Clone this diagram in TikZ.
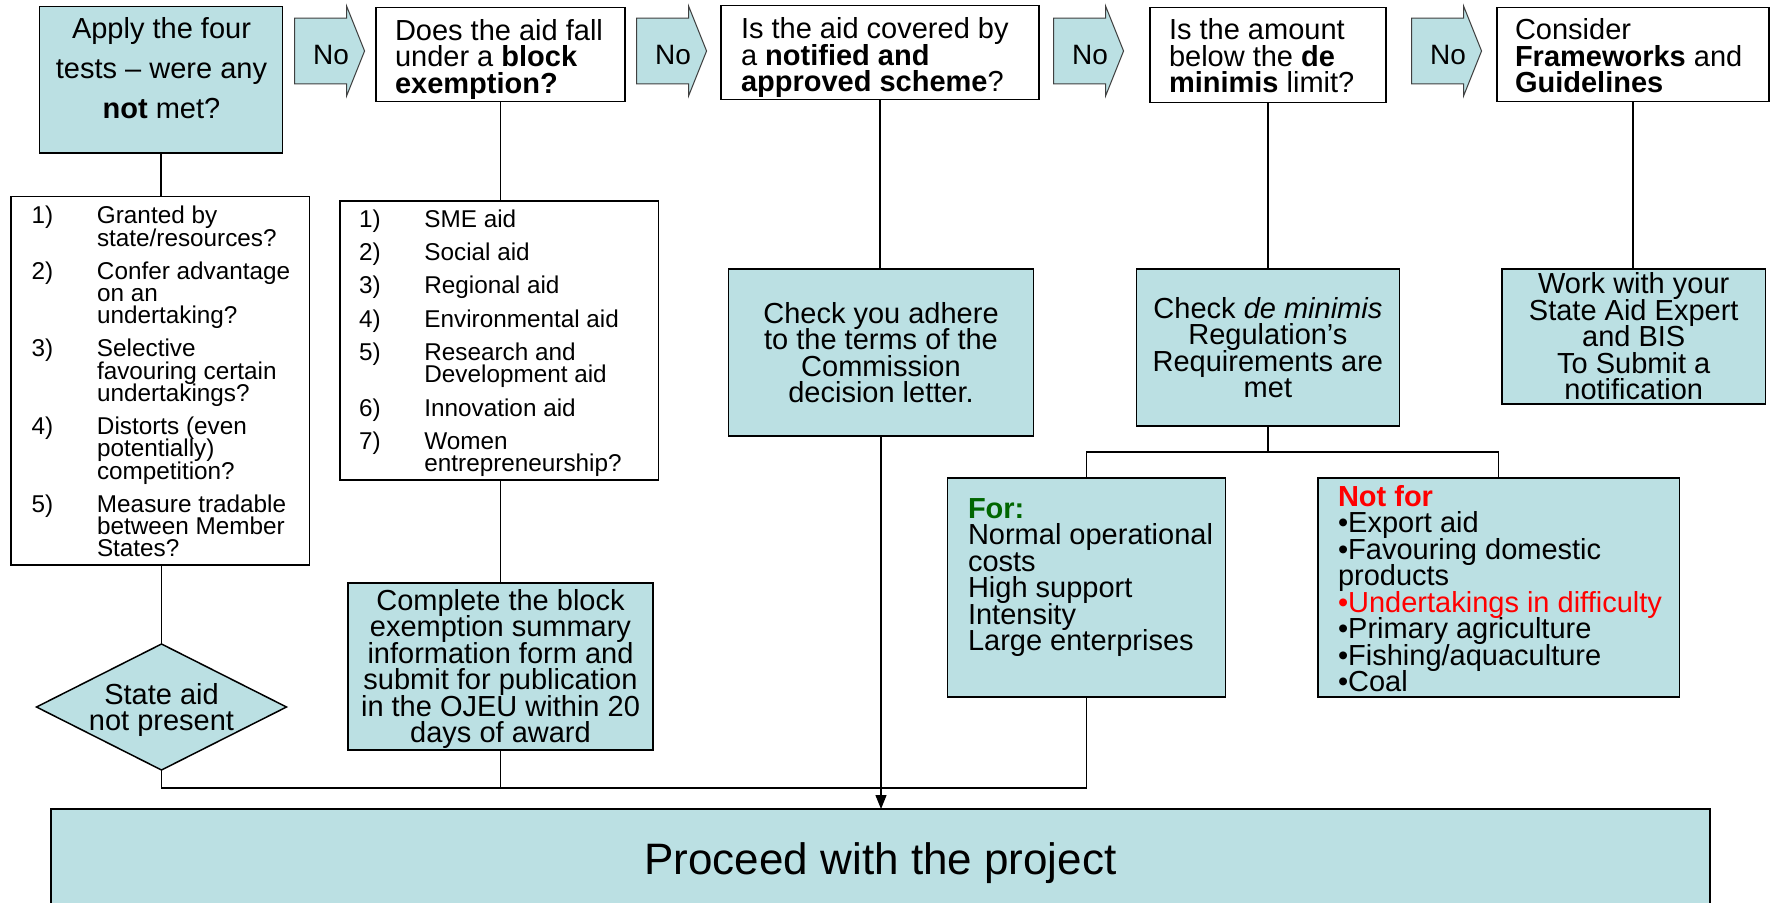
\documentclass[tikz,border=0pt]{standalone}
\usepackage{fontspec}
\setmainfont{Liberation Sans}
\usetikzlibrary{shapes.geometric,shapes.arrows,arrows.meta}

\definecolor{aidfill}{RGB}{187,224,227}
\definecolor{forgreen}{RGB}{0,102,0}
\definecolor{notred}{RGB}{255,0,0}

% fixed line pitch, never widened by tall glyphs
\newcommand\qfont{\fontsize{29}{26.5}\selectfont\lineskiplimit=-100pt\lineskip=0pt}
\newcommand\widefont{\fontsize{29}{40}\selectfont\lineskiplimit=-100pt\lineskip=0pt}
\newcommand\listfont{\fontsize{24.3}{22.4}\selectfont\lineskiplimit=-100pt\lineskip=0pt}
\newcommand\nofont{\fontsize{28}{30}\selectfont}
\newcommand\itm[1]{\makebox[65.4pt][l]{#1}}
\newcommand\cont{\hspace*{65.4pt}}
\newcommand\notext{\hspace*{16pt}\rule{0pt}{28pt}No}

\begin{document}
\begin{tikzpicture}[x=1pt,y=-1pt,
  every node/.style={inner sep=0pt,outer sep=0pt},
  frame/.style={draw=black,line width=1.5pt,rectangle},
  qbox/.style={frame,fill=white},
  tbox/.style={frame,fill=aidfill,align=center,font=\qfont},
  qtext/.style={anchor=west,align=left,font=\qfont},
  ltext/.style={anchor=west,align=left,font=\listfont},
  wire/.style={draw=black,line width=1.3pt},
  noarrow/.style={single arrow,draw=black!75,line width=1pt,fill=aidfill,
    single arrow tip angle=136.4,minimum width=90pt,minimum height=70pt,
    inner xsep=0pt,inner ysep=4.5pt,font=\nofont},
]
\path[use as bounding box,clip] (0,0) rectangle (1771,902);

% ---- top row: questions ----
\node[tbox,minimum width=243pt,minimum height=146.5pt] (b1) at (161,79.75) {};
\node[align=center,font=\widefont] (b1t) at (161.5,68.25)
  {Apply the four\\tests – were any\\\textbf{not} met?};

\node[noarrow] (a1) at (323,51) {\notext};

\node[qbox,minimum width=249pt,minimum height=94.4pt] (b2) at (500.5,54.5) {};
\node[qtext] (b2t) at (395,59.5)
  {Does the aid fall\\under a \textbf{block}\\\textbf{exemption?}};

\node[noarrow] (a2) at (665,51) {\notext};

\node[qbox,minimum width=318pt,minimum height=93.8pt] (b3) at (880,52.5) {};
\node[qtext] (b3t) at (741,58)
  {Is the aid covered by\\a \textbf{notified and}\\\textbf{approved scheme}?};

\node[noarrow] (a3) at (1082,51) {\notext};

\node[qbox,minimum width=236pt,minimum height=95pt] (b4) at (1268,55) {};
\node[qtext] (b4t) at (1169,55.75)
  {Is the amount\\below the \textbf{de}\\\textbf{minimis} limit?};

\node[noarrow] (a4) at (1440,51) {\notext};

\node[qbox,minimum width=272pt,minimum height=94.4pt] (b5) at (1633,54.5) {};
\node[qtext] (b5t) at (1515,55.75)
  {Consider\\\textbf{Frameworks} and\\\textbf{Guidelines}};

% ---- column 1: the four tests ----
\node[qbox,minimum width=298.5pt,minimum height=368.5pt] (l1) at (160.25,380.75) {};
\node[ltext] (l1t) at (31.6,381.7)
  {\itm{1)}Granted by\\
   \cont state/resources?\\[10.5pt]
   \itm{2)}Confer advantage\\
   \cont on an\\
   \cont undertaking?\\[10.5pt]
   \itm{3)}Selective\\
   \cont favouring certain\\
   \cont undertakings?\\[10.5pt]
   \itm{4)}Distorts (even\\
   \cont potentially)\\
   \cont competition?\\[10.5pt]
   \itm{5)}Measure tradable\\
   \cont between Member\\
   \cont States?};

\node[diamond,draw=black,line width=1.5pt,fill=aidfill,
  minimum width=250pt,minimum height=126pt] (dia) at (161.5,707) {};
\node[align=center,font=\qfont] (diat) at (161.5,710) {State aid\\not present};

% ---- column 2: block exemption ----
\node[qbox,minimum width=318.5pt,minimum height=279pt] (l2) at (499.25,340.5) {};
\node[ltext] (l2t) at (359,343.2)
  {\itm{1)}SME aid\\[10.9pt]
   \itm{2)}Social aid\\[10.9pt]
   \itm{3)}Regional aid\\[10.9pt]
   \itm{4)}Environmental aid\\[10.9pt]
   \itm{5)}Research and\\
   \cont Development aid\\[10.9pt]
   \itm{6)}Innovation aid\\[10.9pt]
   \itm{7)}Women\\
   \cont entrepreneurship?};

\node[tbox,minimum width=305pt,minimum height=167pt] (cb) at (500.5,666.5)
  {\rule{0pt}{26pt}Complete the block\\exemption summary\\information form and\\submit for publication\\in the OJEU within 20\\days of award};

% ---- column 3: notified scheme ----
\node[tbox,minimum width=305pt,minimum height=167pt] (ad) at (881,352.5)
  {Check you adhere\\to the terms of the\\Commission\\decision letter.};

% ---- column 4: de minimis ----
\node[tbox,minimum width=263.2pt,minimum height=157pt] (dm) at (1267.9,347.5)
  {Check \textit{de minimis}\\Regulation’s\\Requirements are\\met};

\node[tbox,minimum width=277.8pt,minimum height=219pt] (fr) at (1086.6,587.5) {};
\node[qtext] (frt) at (968,577.5)
  {\textcolor{forgreen}{\textbf{For:}}\\Normal operational\\costs\\High support\\Intensity\\Large enterprises};

\node[tbox,minimum width=361.6pt,minimum height=219pt] (nf) at (1498.8,587.5) {};
\node[qtext] (nft) at (1338,588.5)
  {\textcolor{notred}{\textbf{Not for}}\\•Export aid\\•Favouring domestic\\products\\\textcolor{notred}{•Undertakings in difficulty}\\•Primary agriculture\\•Fishing/aquaculture\\•Coal};

% ---- column 5: frameworks ----
\node[tbox,minimum width=263.4pt,minimum height=135pt] (wk) at (1633.7,336.5)
  {Work with your\\State Aid Expert\\and BIS\\To Submit a\\notification};

% ---- outcome ----
\node[tbox,font=\fontsize{44}{50}\selectfont,minimum width=1659pt,minimum height=102pt]
  (pr) at (880.5,860) {\rule{0pt}{39pt}Proceed with the project};

% ---- connectors ----
\coordinate (merge) at (881,788);
\coordinate (split) at (1267.9,452);

\draw[wire] (b1.south) -- (b1.south |- l1.north);
\draw[wire] (l1.south -| dia.north) -- (dia.north);
\draw[wire] (dia.south) -- (dia.south |- merge) -- (fr.south |- merge) -- (fr.south);

\draw[wire] (b2.south) -- (b2.south |- l2.north);
\draw[wire] (l2.south -| cb.north) -- (cb.north);
\draw[wire] (cb.south) -- (cb.south |- merge);

\draw[wire] (b3.south) -- (b3.south |- ad.north);
\draw[wire,-{Triangle[length=14pt,width=11pt]}] (ad.south) -- (ad.south |- pr.north);

\draw[wire] (b4.south) -- (b4.south |- dm.north);
\draw[wire] (dm.south) -- (split);
\draw[wire] (fr.north) -- (fr.north |- split) -- (nf.north |- split) -- (nf.north);

\draw[wire] (b5.south) -- (b5.south |- wk.north);
\end{tikzpicture}
\end{document}
